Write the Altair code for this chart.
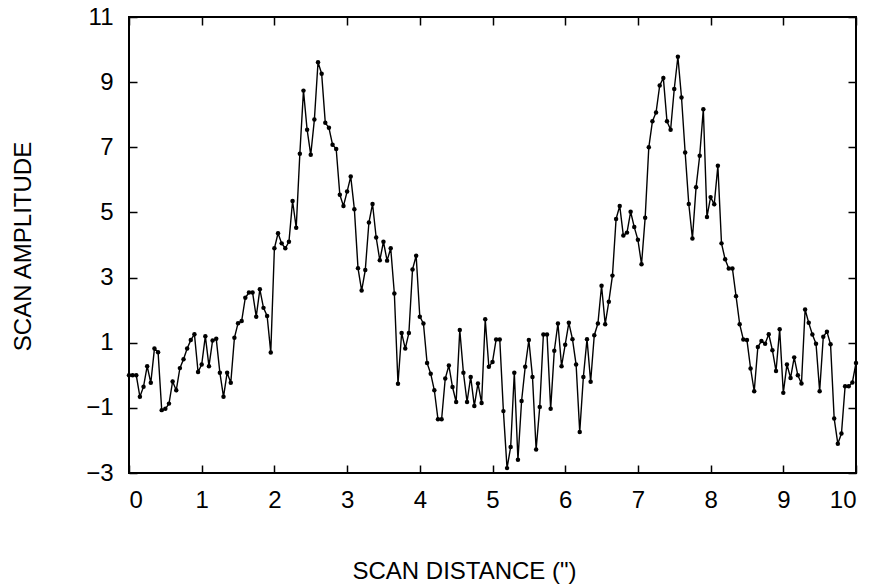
import altair as alt
import pandas as pd

amplitude = [
    0.0, 0.0, 0.0, -0.66, -0.35, 0.28, -0.23, 0.82, 0.71, -1.07,
    -1.03, -0.87, -0.19, -0.46, 0.22, 0.49, 0.82, 1.08, 1.26, 0.1,
    0.33, 1.2, 0.28, 1.07, 1.12, 0.08, -0.66, 0.08, -0.23, 1.15,
    1.6, 1.67, 2.38, 2.54, 2.54, 1.8, 2.64, 2.07, 1.82, 0.7,
    3.9, 4.36, 4.05, 3.9, 4.1, 5.35, 4.53, 6.8, 8.74, 7.54,
    6.77, 7.85, 9.61, 9.26, 7.75, 7.6, 7.08, 6.95, 5.54, 5.2,
    5.64, 6.1, 5.1, 3.29, 2.6, 3.23, 4.69, 5.26, 4.23, 3.53,
    4.1, 3.52, 3.9, 2.51, -0.26, 1.3, 0.82, 1.3, 3.25, 3.67,
    1.8, 1.59, 0.38, 0.05, -0.46, -1.35, -1.35, -0.1, 0.3, -0.36,
    -0.82, 1.39, 0.08, -0.82, -0.05, -0.94, -0.25, -0.85, 1.72, 0.26,
    0.41, 1.1, 1.1, -1.1, -2.85, -2.2, 0.08, -2.59, -0.79, 0.26,
    1.08, -0.05, -2.28, -0.97, 1.25, 1.25, -1.03, 0.75, 1.59, 0.28,
    0.94, 1.61, 1.11, 0.33, -1.74, -0.05, 1.11, -0.2, 1.23, 1.59,
    2.75, 1.57, 2.26, 3.06, 4.8, 5.2, 4.29, 4.38, 5.02, 4.55,
    4.16, 3.41, 4.84, 7.0, 7.8, 8.07, 8.9, 9.13, 7.8, 7.54,
    8.79, 9.78, 8.53, 6.84, 5.26, 4.2, 5.77, 6.74, 8.17, 4.86,
    5.47, 5.25, 6.43, 4.05, 3.56, 3.28, 3.28, 2.43, 1.57, 1.1,
    1.08, 0.21, -0.49, 0.87, 1.05, 0.97, 1.26, 0.77, 0.13, 1.41,
    -0.54, 0.33, -0.08, 0.55, 0.0, -0.25, 2.02, 1.61, 1.25, 0.97,
    -0.49, 1.18, 1.34, 0.95, -1.33, -2.1, -1.79, -0.34, -0.34, -0.22,
    0.38,
]
sample_step = 0.05
distance = [round(i * sample_step, 2) for i in range(len(amplitude))]

x_ticks = [0, 1, 2, 3, 4, 5, 6, 7, 8, 9, 10]
y_ticks = [-3, -1, 1, 3, 5, 7, 9, 11]
x_title = 'SCAN DISTANCE (")'
y_title = "SCAN AMPLITUDE"

df = pd.DataFrame({"d": distance, "a": amplitude})

W, H = 727, 456
FONT = "Liberation Sans"

xs = alt.Scale(domain=[0, 10], nice=False, zero=False)
ys = alt.Scale(domain=[-3, 11], nice=False, zero=False)

tick_axis = dict(labels=False, domain=False, ticks=True, tickSize=8,
                 tickWidth=1.5, tickColor="black", grid=False, title="")

base = alt.Chart(df)

line = base.mark_line(color="black", strokeWidth=1.4).encode(
    x=alt.X("d:Q", scale=xs, axis=alt.Axis(
        orient="bottom", values=x_ticks, ticks=False, domain=False, grid=False,
        labelFont=FONT, labelFontSize=24, labelColor="black", labelPadding=15,
        title=x_title, titleFont=FONT, titleFontSize=24, titleFontWeight="normal",
        titleColor="black", titleX=335, titleY=98, titleBaseline="middle",
        titleAnchor="start", titleAlign="center")),
    y=alt.Y("a:Q", scale=ys, axis=alt.Axis(
        orient="left", values=y_ticks, ticks=False, domain=False, grid=False,
        labelFont=FONT, labelFontSize=24, labelColor="black", labelPadding=16,
        title=y_title, titleFont=FONT, titleFontSize=24, titleFontWeight="normal",
        titleColor="black", titleX=-106, titleY=229, titleAngle=270,
        titleBaseline="middle", titleAlign="center")),
)

points = base.mark_circle(color="black", size=20, opacity=1).encode(
    x=alt.X("d:Q", scale=xs, axis=alt.Axis(orient="top", offset=-H,
                                             values=x_ticks, **tick_axis)),
    y=alt.Y("a:Q", scale=ys, axis=alt.Axis(orient="right", offset=-W,
                                             values=y_ticks, **tick_axis)),
)

frame_ticks = base.mark_circle(opacity=0).encode(
    x=alt.X("d:Q", scale=xs, axis=alt.Axis(orient="bottom", offset=-H,
                                             values=x_ticks, **tick_axis)),
    y=alt.Y("a:Q", scale=ys, axis=alt.Axis(orient="left", offset=-W,
                                             values=y_ticks, **tick_axis)),
)

chart = alt.layer(line, points, frame_ticks).resolve_axis(
    x="independent", y="independent"
).properties(
    width=W, height=H,
    padding={"left": 129, "top": 17, "right": 17, "bottom": 115},
    autosize=alt.AutoSizeParams(type="none"),
    background="white",
).configure_view(stroke="black", strokeWidth=2)

chart.save("out.html", embed_options={"renderer": "svg", "actions": False})
